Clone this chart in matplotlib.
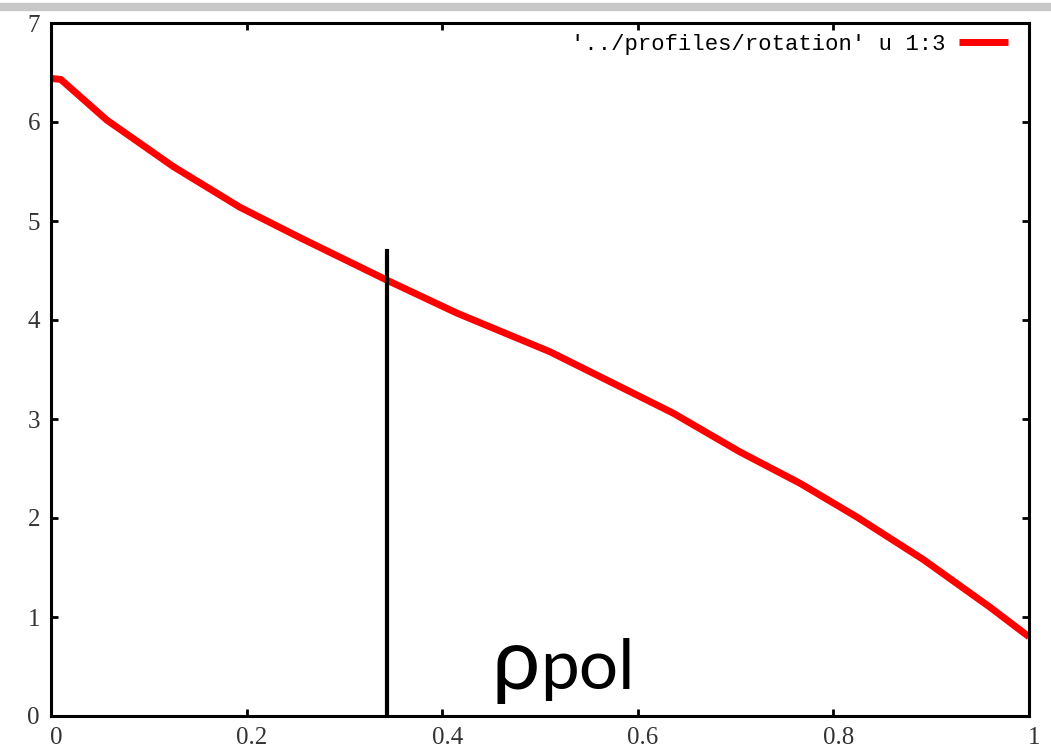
import matplotlib
matplotlib.use("Agg")
import matplotlib.pyplot as plt
import matplotlib.transforms as mtransforms
from matplotlib.patches import Rectangle

# profile
rho = [0.0, 0.01, 0.057, 0.125, 0.193, 0.255, 0.344, 0.415, 0.510,
       0.569, 0.636, 0.704, 0.766, 0.824, 0.892, 0.960, 1.0]
rot = [6.44, 6.43, 6.02, 5.55, 5.14, 4.83, 4.40, 4.07, 3.68,
       3.39, 3.06, 2.67, 2.35, 2.01, 1.58, 1.10, 0.80]

marker_x = 0.344
marker_top = 4.70

xticks = [0, 0.2, 0.4, 0.6, 0.8, 1]
xticklabels = ["0", "0.2", "0.4", "0.6", "0.8", "1"]
yticks = [0, 1, 2, 3, 4, 5, 6, 7]

legend_label = "'../profiles/rotation' u 1:3"

W, H = 1051, 748
fig = plt.figure(figsize=(W / 100, H / 100), dpi=100)
ax = fig.add_axes([51 / W, (H - 716) / H, (1029 - 51) / W, (716 - 23) / H])

# window chrome strip at the top
fig.patches.append(Rectangle((0, 1 - 10 / H), 1, 7 / H, transform=fig.transFigure,
                             color="#c8c8c8", zorder=0))

ax.plot(rho, rot, color="red", lw=5, solid_capstyle="butt", label=legend_label)
ax.plot([marker_x, marker_x], [0, marker_top], color="black", lw=3)

ax.set_xlim(0, 1)
ax.set_ylim(0, 7)
ax.set_xticks(xticks)
ax.set_xticklabels(xticklabels)
ax.set_yticks(yticks)

for s in ax.spines.values():
    s.set_linewidth(2.2)
ax.tick_params(direction="in", length=5, width=2, top=True, right=True,
               labelsize=18, pad=8)
for lab in ax.get_xticklabels() + ax.get_yticklabels():
    lab.set_fontfamily("Liberation Serif")
    lab.set_color("#333333")
offset = mtransforms.ScaledTranslation(5 / 100, 0, fig.dpi_scale_trans)
for lab in ax.get_xticklabels():
    lab.set_transform(lab.get_transform() + offset)

leg = ax.legend(loc="upper right", bbox_to_anchor=(1 - 10 / 978, 1), frameon=False,
                handlelength=2.2, markerfirst=False, borderaxespad=0.1,
                handletextpad=0.6, prop={"family": "Liberation Mono", "size": 16})

ax.text(0.450, 0.27, "\u03c1", fontsize=62, family="Lato",
        ha="left", va="baseline")
ax.text(0.500, 0.27, "pol", fontsize=50, family="Lato",
        ha="left", va="baseline")

fig.savefig("out.png", dpi=100)
